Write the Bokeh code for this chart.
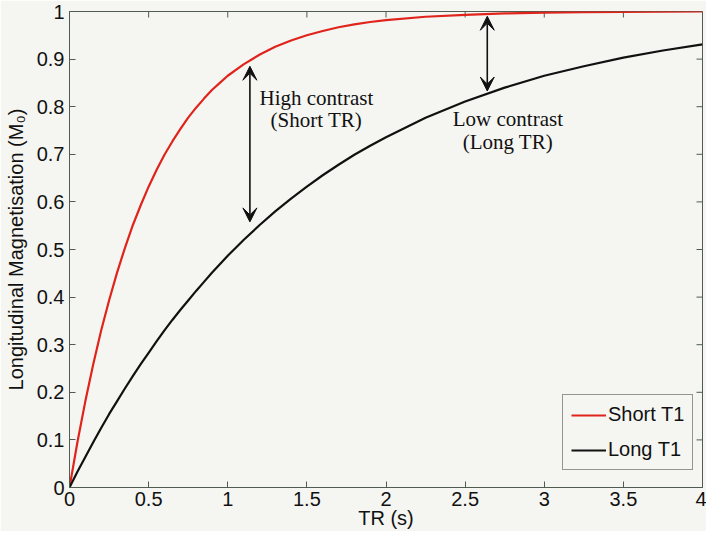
from bokeh.plotting import figure
from bokeh.models import (Legend, LegendItem, Arrow, VeeHead,
                          ColumnDataSource, Range1d)
from bokeh.core.properties import value
from bokeh.embed import file_html
from bokeh.resources import INLINE

# ---- data ----
tr = [0, 0.05, 0.1, 0.15, 0.2, 0.25, 0.3, 0.35, 0.4, 0.45, 0.5, 0.55, 0.6,
      0.65, 0.7, 0.75, 0.8, 0.85, 0.9, 0.95, 1.0, 1.1, 1.2, 1.3, 1.4, 1.5,
      1.6, 1.7, 1.8, 1.9, 2.0, 2.25, 2.5, 2.75, 3.0, 3.25, 3.5, 3.75, 4.0]
short_t1 = [0, 0.095, 0.181, 0.259, 0.33, 0.393, 0.451, 0.503, 0.551, 0.593,
            0.632, 0.667, 0.699, 0.727, 0.753, 0.777, 0.798, 0.817, 0.835,
            0.850, 0.865, 0.889, 0.909, 0.926, 0.939, 0.950, 0.959, 0.967,
            0.973, 0.978, 0.982, 0.989, 0.993, 0.996, 0.9975, 0.9985, 0.999,
            0.9995, 1.0]
long_t1 = [0, 0.033, 0.064, 0.095, 0.125, 0.154, 0.181, 0.208, 0.234, 0.259,
           0.283, 0.307, 0.330, 0.352, 0.373, 0.393, 0.413, 0.432, 0.451,
           0.469, 0.487, 0.520, 0.551, 0.580, 0.607, 0.632, 0.656, 0.678,
           0.699, 0.718, 0.736, 0.777, 0.811, 0.840, 0.865, 0.885, 0.903,
           0.918, 0.931]

arrow_x = [1.14, 2.64]
arrow_y_top = [0.885, 0.99]
arrow_y_bottom = [0.558, 0.833]

note_x = [1.56, 1.56, 2.77, 2.77]
note_y = [0.818, 0.772, 0.774, 0.726]
note_text = ["High contrast", "(Short TR)", "Low contrast", "(Long TR)"]

x_ticks = [0, 0.5, 1, 1.5, 2, 2.5, 3, 3.5, 4]
y_ticks = [0, 0.1, 0.2, 0.3, 0.4, 0.5, 0.6, 0.7, 0.8, 0.9, 1]

BG = "#f5f6f2"
AXC = "#4f5c4f"
SANS = "Liberation Sans"

p = figure(width=706, height=531, output_backend="svg", toolbar_location=None,
           x_range=Range1d(x_ticks[0], x_ticks[-1]),
           y_range=Range1d(y_ticks[0], y_ticks[-1]),
           min_border_left=69, min_border_right=4, min_border_top=11,
           min_border_bottom=38)
p.background_fill_color = BG
p.border_fill_color = BG
p.outline_line_color = AXC
p.outline_line_width = 1
p.grid.visible = False

for ax in (p.xaxis[0], p.yaxis[0]):
    ax.axis_line_color = AXC
    ax.major_tick_line_color = AXC
    ax.major_tick_in = 6
    ax.major_tick_out = 0
    ax.minor_tick_line_color = None
    ax.major_label_text_font = SANS
    ax.major_label_text_color = "#111111"
    ax.major_label_text_font_size = "20px"
    ax.axis_label_text_font = SANS
    ax.axis_label_text_font_style = "normal"
    ax.axis_label_text_font_size = "20px"
    ax.axis_label_text_color = "#111111"

p.xaxis[0].ticker = x_ticks
p.yaxis[0].ticker = y_ticks
p.xaxis[0].major_label_overrides = {0: "0", 1: "1", 2: "2", 3: "3", 4: "4"}
p.yaxis[0].major_label_overrides = {0: "0", 1: "1"}
p.xaxis[0].major_label_standoff = 4
p.yaxis[0].major_label_standoff = 5
p.xaxis[0].axis_label = "TR (s)"
p.yaxis[0].axis_label = "Longitudinal Magnetisation (M\u2080)"
p.xaxis[0].axis_label_standoff = -2
p.yaxis[0].axis_label_standoff = 7

# inward tick marks on the top and right edges of the box
p.ray(x=x_ticks, y=[y_ticks[-1]] * len(x_ticks), length=6, length_units="screen",
      angle=-90, angle_units="deg", line_color=AXC, line_width=1)
p.ray(x=[x_ticks[-1]] * len(y_ticks), y=y_ticks, length=6, length_units="screen",
      angle=180, angle_units="deg", line_color=AXC, line_width=1)

src = ColumnDataSource(dict(tr=tr, s=short_t1, l=long_t1))
r_short = p.line("tr", "s", source=src, line_color="#e0241c", line_width=2.2)
r_long = p.line("tr", "l", source=src, line_color="#111111", line_width=2.2)

for xa, y0, y1 in zip(arrow_x, arrow_y_top, arrow_y_bottom):
    p.add_layout(Arrow(x_start=xa, y_start=y1, x_end=xa, y_end=y0,
                       line_color="#111111", line_width=1.6,
                       start=VeeHead(size=14, fill_color="#111111", line_color="#111111", line_width=1),
                       end=VeeHead(size=14, fill_color="#111111", line_color="#111111", line_width=1)))

nsrc = ColumnDataSource(dict(x=note_x, y=note_y, t=note_text))
p.text("x", "y", text="t", source=nsrc, text_font=value("Liberation Serif"),
       text_font_size="21px", text_align="center", text_baseline="middle",
       text_color="#111111")

legend = Legend(items=[LegendItem(label="Short T1", renderers=[r_short]),
                       LegendItem(label="Long T1", renderers=[r_long])],
                location=(493, 17), margin=0, padding=8, spacing=12,
                glyph_width=35, glyph_height=20, label_height=20,
                label_standoff=2,
                label_text_font=SANS, label_text_font_size="20px",
                label_text_color="#111111",
                border_line_color="#333333", border_line_width=1,
                background_fill_color=BG, background_fill_alpha=1)
p.add_layout(legend)

open("out.html", "w").write(file_html(p, INLINE))
